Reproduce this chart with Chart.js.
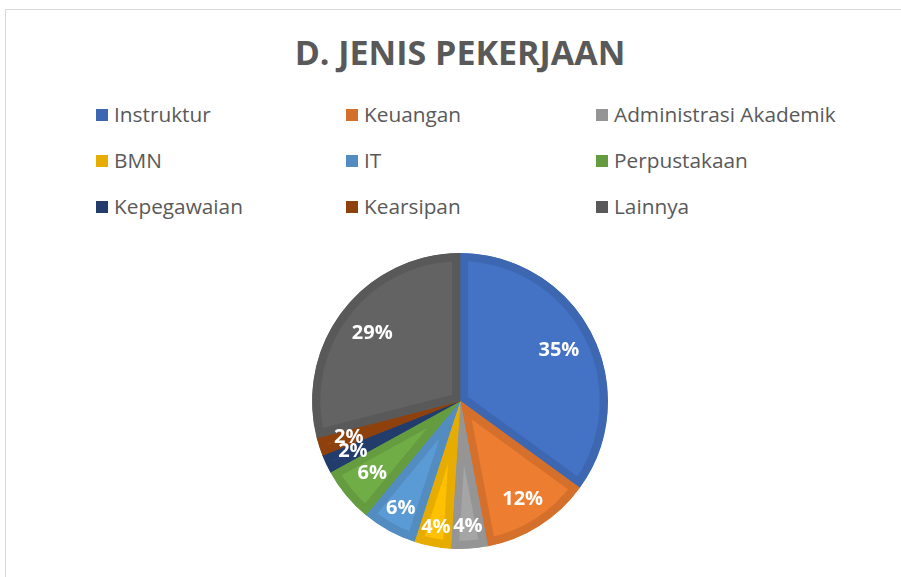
<!DOCTYPE html>
<html>
<head>
<meta charset="utf-8">
<script src="https://cdn.jsdelivr.net/npm/chart.js@4/dist/chart.umd.min.js"></script>
<style>
    html, body { margin: 0; padding: 0; background: #fff; }
    #wrap { position: relative; width: 901px; height: 577px; overflow: hidden; font-family: "Open Sans", sans-serif; }
    #frame { position: absolute; left: 5px; top: 9px; width: 940px; height: 620px; border: 1px solid #d9d9d9; }
    #title { position: absolute; left: 0; top: 35px; width: 920px; text-align: center; font-weight: bold; font-size: 34px; line-height: 34px; color: #595959; }
    #legend { position: absolute; left: 96px; top: 104px; display: grid; grid-template-columns: 250px 250px 250px; grid-auto-rows: 46px; }
    .item { display: flex; align-items: flex-start; height: 21px; font-size: 20.8px; line-height: 21px; color: #595959; white-space: nowrap; }
    .box { width: 12px; height: 12px; margin: 5px 6px 0 0; flex: none; }
    #chart { position: absolute; left: 0; top: 0; }
</style>
</head>
<body>
<div id="wrap">
    <div id="frame"></div>
    <div id="title">D. JENIS PEKERJAAN</div>
    <div id="legend"></div>
    <canvas id="chart" width="901" height="577"></canvas>
</div>
<script>
// Jenis pekerjaan (persen)
const categories = ['Instruktur', 'Keuangan', 'Administrasi Akademik', 'BMN', 'IT', 'Perpustakaan', 'Kepegawaian', 'Kearsipan', 'Lainnya'];
const values = [35, 12, 4, 4, 6, 6, 2, 2, 29];

const fillColors = ['#4472C4', '#ED7D31', '#A5A5A5', '#FFC000', '#5B9BD5', '#70AD47', '#264478', '#9E480E', '#636363'];
const edgeColors = ['#3E67B1', '#D5702C', '#959595', '#E6AD00', '#528CC0', '#659C40', '#223D6C', '#8E410D', '#595959'];
// how far out along the slice each label sits (fraction of radius)
const labelRadius = [0.75, 0.79, 0.85, 0.87, 0.83, 0.77, 0.80, 0.79, 0.75];

// legend
const legendEl = document.getElementById('legend');
categories.forEach((c, i) => {
    const item = document.createElement('div');
    item.className = 'item';
    item.innerHTML = `<span class="box" style="background:${edgeColors[i]}"></span>${c}`;
    legendEl.appendChild(item);
});

const pieLabels = {
    id: 'pieLabels',
    afterDatasetsDraw(chart) {
        const ctx = chart.ctx;
        const meta = chart.getDatasetMeta(0);
        const total = values.reduce((a, b) => a + b, 0);
        ctx.save();
        ctx.font = 'bold 20px "Open Sans", sans-serif';
        ctx.fillStyle = '#ffffff';
        ctx.textAlign = 'center';
        ctx.textBaseline = 'middle';
        meta.data.forEach((arc, i) => {
            const p = arc.getProps(['x', 'y', 'startAngle', 'endAngle', 'outerRadius'], true);
            const mid = (p.startAngle + p.endAngle) / 2;
            const r = p.outerRadius * labelRadius[i];
            const txt = Math.round(values[i] / total * 100) + '%';
            ctx.fillText(txt, p.x + Math.cos(mid) * r, p.y + Math.sin(mid) * r);
        });
        ctx.restore();
    }
};

new Chart(document.getElementById('chart'), {
    type: 'pie',
    data: {
        labels: categories,
        datasets: [{
            data: values,
            backgroundColor: fillColors,
            borderColor: edgeColors,
            borderWidth: 8,
            borderAlign: 'inner',
            borderJoinStyle: 'miter'
        }]
    },
    options: {
        responsive: false,
        animation: false,
        events: [],
        layout: { padding: { top: 253, bottom: 28, left: 100, right: 81 } },
        plugins: {
            legend: { display: false },
            title: { display: false },
            tooltip: { enabled: false }
        }
    },
    plugins: [pieLabels]
});
</script>
</body>
</html>
